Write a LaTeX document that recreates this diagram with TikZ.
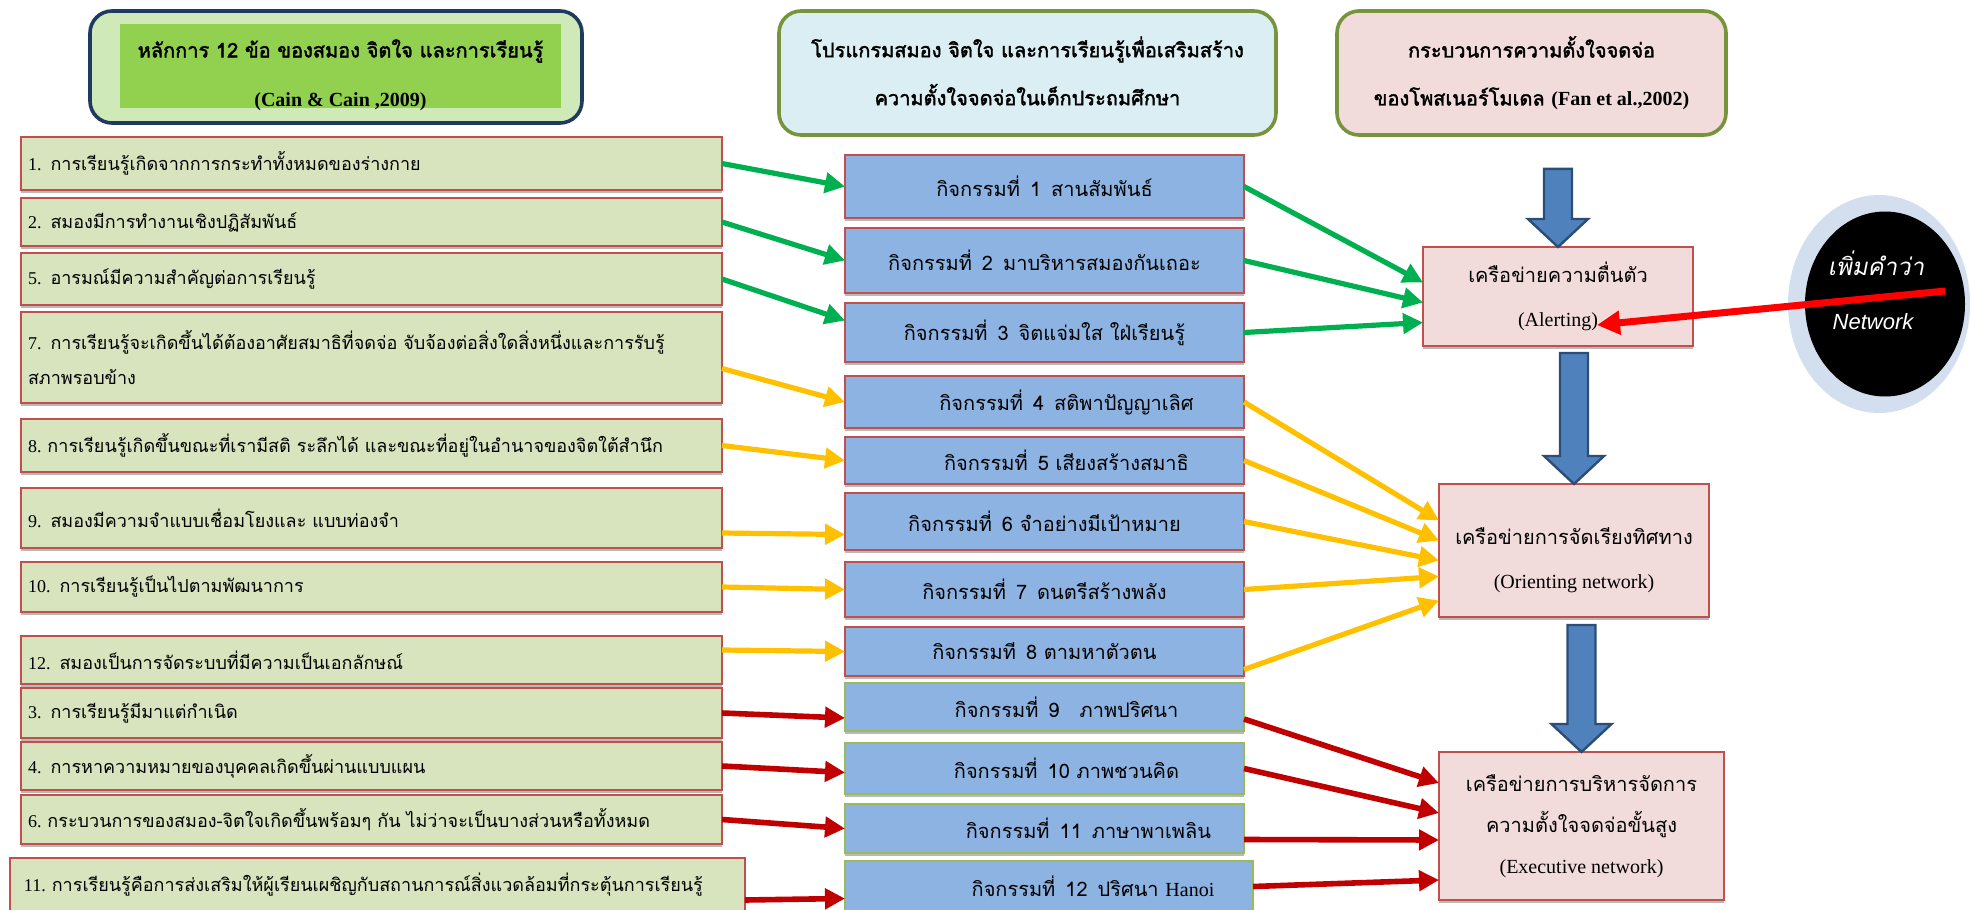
\documentclass[tikz,border=0pt]{standalone}
\usepackage{fontspec}
\setmainfont{Liberation Serif}
\newfontfamily\thai[Script=Thai,AutoFakeBold=2,AutoFakeSlant=0.2]{Loma}
\newfontfamily\lsans{Liberation Sans}
\definecolor{lgreen}{HTML}{D7E4BD}
\definecolor{lred}{HTML}{C0504D}
\definecolor{mblue}{HTML}{8DB3E2}
\definecolor{mgreen}{HTML}{9BBB59}
\definecolor{rpink}{HTML}{F2DCDB}
\definecolor{hgreen}{HTML}{92D050}
\definecolor{hlgreen}{HTML}{D0E9B8}
\definecolor{hnavy}{HTML}{1F3A5F}
\definecolor{hblue}{HTML}{DBEEF3}
\definecolor{holive}{HTML}{77933C}
\definecolor{agreen}{HTML}{00B050}
\definecolor{ayellow}{HTML}{FFC000}
\definecolor{ared}{HTML}{C00000}
\definecolor{bblue}{HTML}{4F81BD}
\definecolor{bnavy}{HTML}{2C4D75}
\definecolor{cring}{HTML}{D3DEEE}
\usetikzlibrary{arrows.meta, positioning, calc, shadows, shapes.geometric}
% draw a line lower without changing its box
\newcommand{\lowerline}[2]{\raisebox{-#1}[\height][\depth]{#2}}

\begin{document}
\begin{tikzpicture}[
  x=0.5pt, y=-0.5pt,
  boxshadow/.style={drop shadow={shadow xshift=0pt, shadow yshift=-1.3pt,
    fill=gray!55, opacity=1}},
  lbox/.style={rectangle, draw=lred, fill=lgreen, line width=0.7pt,
    outer sep=0pt, minimum width=350.5pt, text width=343.5pt,
    inner xsep=3.5pt, inner ysep=0pt, align=left, boxshadow,
    font=\fontsize{9}{17.5}\selectfont},
  mbox/.style={rectangle, draw=lred, fill=mblue, line width=0.7pt,
    outer sep=0pt, minimum width=199.5pt, inner sep=0pt, align=center,
    boxshadow, font=\thai\fontsize{10}{12}\selectfont},
  rbox/.style={rectangle, draw=lred, fill=rpink, line width=0.7pt,
    outer sep=0pt, inner sep=0pt, align=center, boxshadow,
    font=\thai\fontsize{10}{22}\selectfont},
  hdr/.style={rectangle, rounded corners=11pt, draw=holive, line width=1.8pt,
    align=center, font=\thai\bfseries\fontsize{10}{24}\selectfont},
  garr/.style={-{Triangle[length=10pt,width=10pt]}, line width=2.6pt, agreen},
  yarr/.style={-{Triangle[length=10pt,width=10pt]}, line width=2.6pt, ayellow},
  rarr/.style={-{Triangle[length=10pt,width=10pt]}, line width=2.8pt, ared},
  barrow/.style={fill=bblue, draw=bnavy, line width=1.2pt},
  notetxt/.style={text=white, inner sep=0pt}
]
  \useasboundingbox (0,0) rectangle (1971,910);

  % headers
  \node[hdr, draw=hnavy, fill=hlgreen, minimum width=246pt,
    minimum height=56pt] (h1) at (336,67) {};
  \node[rectangle, fill=hgreen, minimum width=220.5pt, minimum height=41pt,
    align=center, font=\thai\bfseries\fontsize{10}{24.5}\selectfont]
    (h1t) at (340.5,66)
    {\lowerline{4.5pt}{หลักการ 12 ข้อ ของสมอง จิตใจ และการเรียนรู้}\\
     \lowerline{4.5pt}{\rmfamily\bfseries (Cain \& Cain ,2009)}};
  \node[hdr, fill=hblue, minimum width=248.5pt, minimum height=62pt]
    (h2) at (1027.5,73)
    {\lowerline{-1pt}{โปรแกรมสมอง จิตใจ และการเรียนรู้เพื่อเสริมสร้าง}\\
     \lowerline{-1pt}{ความตั้งใจจดจ่อในเด็กประถมศึกษา}};
  \node[hdr, fill=rpink, minimum width=194.5pt, minimum height=62pt]
    (h3) at (1531.5,73)
    {กระบวนการความตั้งใจจดจ่อ\\ของโพสเนอร์โมเดล {\rmfamily\bfseries (Fan et al.,2002)}};

  % left: principles
  \node[lbox, minimum height=26.5pt, anchor=north west] (l1) at (21,137)
    {1. \thai การเรียนรู้เกิดจากการกระทำทั้งหมดของร่างกาย};
  \node[lbox, minimum height=24pt, below=4pt of l1] (l2)
    {2. \thai สมองมีการทำงานเชิงปฏิสัมพันธ์};
  \node[lbox, minimum height=26pt, below=3.5pt of l2] (l5)
    {5. \thai อารมณ์มีความสำคัญต่อการเรียนรู้};
  \node[lbox, minimum height=45.5pt, below=3.5pt of l5] (l7)
    {7. \thai การเรียนรู้จะเกิดขึ้นได้ต้องอาศัยสมาธิที่จดจ่อ~จับจ้องต่อสิ่งใดสิ่งหนึ่งและการรับรู้\\สภาพรอบข้าง};
  \node[lbox, minimum height=26.5pt, below=8pt of l7] (l8)
    {8.~\thai การเรียนรู้เกิดขึ้นขณะที่เรามีสติ~ระลึกได้~และขณะที่อยู่ในอำนาจของจิตใต้สำนึก};
  \node[lbox, minimum height=30pt, below=8pt of l8] (l9)
    {9. \thai สมองมีความจำแบบเชื่อมโยงและ แบบท่องจำ};
  \node[lbox, minimum height=25pt, below=7pt of l9] (l10)
    {10. \thai การเรียนรู้เป็นไปตามพัฒนาการ};
  \node[lbox, minimum height=24pt, below=12pt of l10] (l12)
    {12. \thai สมองเป็นการจัดระบบที่มีความเป็นเอกลักษณ์};
  \node[lbox, minimum height=25pt, below=2pt of l12] (l3)
    {3. \thai การเรียนรู้มีมาแต่กำเนิด};
  \node[lbox, minimum height=24pt, below=2pt of l3] (l4)
    {4. \thai การหาความหมายของบุคคลเกิดขึ้นผ่านแบบแผน};
  \node[lbox, minimum height=24.5pt, below=2.5pt of l4] (l6)
    {6.~\thai กระบวนการของสมอง-จิตใจเกิดขึ้นพร้อมๆ~กัน~ไม่ว่าจะเป็นบางส่วนหรือทั้งหมด};
  \node[lbox, minimum height=27pt, minimum width=367.5pt, text width=353.5pt,
    inner xsep=7pt, anchor=north west] (l11) at (10,858)
    {11.~\thai การเรียนรู้คือการส่งเสริมให้ผู้เรียนเผชิญกับสถานการณ์สิ่งแวดล้อมที่กระตุ้นการเรียนรู้};

  % middle: activities
  \node[mbox, minimum height=31.5pt, anchor=north west] (m1) at (845,155)
    {กิจกรรมที่\enspace 1\enspace สานสัมพันธ์};
  \node[mbox, minimum height=32.5pt, below=5pt of m1] (m2)
    {กิจกรรมที่\enspace 2\enspace มาบริหารสมองกันเถอะ};
  \node[mbox, minimum height=29.5pt, below=5pt of m2] (m3)
    {กิจกรรมที่\enspace 3\enspace จิตแจ่มใส ใฝ่เรียนรู้};
  \node[mbox, minimum height=26pt, below=7pt of m3] (m4)
    {\hspace*{22pt}กิจกรรมที่\enspace 4\enspace สติพาปัญญาเลิศ};
  \node[mbox, minimum height=23.5pt, below=4.5pt of m4] (m5)
    {\hspace*{22pt}กิจกรรมที่\enspace 5 เสียงสร้างสมาธิ};
  \node[mbox, minimum height=28.5pt, below=4.5pt of m5] (m6)
    {กิจกรรมที่\enspace 6 จำอย่างมีเป้าหมาย};
  \node[mbox, minimum height=27.5pt, below=6pt of m6] (m7)
    {กิจกรรมที่\enspace 7\enspace ดนตรีสร้างพลัง};
  \node[mbox, minimum height=24.5pt, below=5pt of m7] (m8)
    {กิจกรรมที\enspace 8 ตามหาตัวตน};
  \node[mbox, draw=mgreen, minimum height=24pt, below=3.5pt of m8] (m9)
    {\hspace*{22pt}กิจกรรมที่\enspace 9\enspace\enspace ภาพปริศนา};
  \node[mbox, draw=mgreen, minimum height=25.5pt, below=6pt of m9] (m10)
    {\hspace*{22pt}กิจกรรมที่\enspace 10 ภาพชวนคิด};
  \node[mbox, draw=mgreen, minimum height=24.5pt, below=5pt of m10] (m11)
    {\hspace*{44pt}กิจกรรมที่\enspace 11\enspace ภาษาพาเพลิน};
  \node[mbox, draw=mgreen, minimum height=25.5pt, minimum width=204pt,
    below=4pt of m11.south west, anchor=north west] (m12)
    {\hspace*{44pt}กิจกรรมที่\enspace 12\enspace ปริศนา {\rmfamily Hanoi}};

  % right: attention networks
  \node[rbox, minimum width=135pt, minimum height=49.5pt] (r1) at (1558,296.5)
    {เครือข่ายความตื่นตัว\\{\rmfamily (Alerting)}};
  \node[rbox, minimum width=135pt, minimum height=66.5pt] (r2) at (1574,550.5)
    {\lowerline{5pt}{เครือข่ายการจัดเรียงทิศทาง}\\
     \lowerline{5pt}{\rmfamily (Orienting network)}};
  \node[rbox, minimum width=142.5pt, minimum height=74pt,
    font=\thai\fontsize{10}{20.5}\selectfont] (r3) at (1581.5,826)
    {เครือข่ายการบริหารจัดการ\\ความตั้งใจจดจ่อขั้นสูง\\{\rmfamily (Executive network)}};

  % block arrows down the right column
  \foreach \a/\b/\g in {h3/r1/16pt, r1/r2/3.5pt, r2/r3/4pt}
    \draw[barrow] let \p1=(\b.north), \p2=(\a.south) in
      (\x1-7pt,\y2-\g) -- (\x1-7pt,\y1+14pt) -- (\x1-15pt,\y1+14pt)
      -- (\p1) -- (\x1+15pt,\y1+14pt) -- (\x1+7pt,\y1+14pt)
      -- (\x1+7pt,\y2-\g) -- cycle;

  % note bubble
  \node[ellipse, fill=cring, minimum width=91pt, minimum height=109pt]
    (ring) at (1879,304) {};
  \node[ellipse, fill=black, minimum width=80pt, minimum height=92.5pt]
    (note) at (1885,304) {};
  \node[notetxt, font=\thai\itshape\fontsize{12}{14}\selectfont]
    (t1) at (1876,263) {เพิ่มคำว่า};
  \node[notetxt, font=\lsans\itshape\fontsize{11}{13}\selectfont]
    (t2) at (1873,322) {Network};

  % principles -> activities
  \draw[garr] (l1.east) -- (m1.west);
  \draw[garr] (l2.east) -- (m2.west);
  \draw[garr] (l5.east) -- ([yshift=6pt]m3.west);
  \draw[yarr] ([yshift=-5.5pt]l7.east) -- (m4.west);
  \draw[yarr] (l8.east) -- (m5.west);
  \draw[yarr] ([yshift=-7.5pt]l9.east) -- ([yshift=-6.5pt]m6.west);
  \draw[yarr] (l10.east) -- (m7.west);
  \draw[yarr] ([yshift=5pt]l12.east) -- (m8.west);
  \draw[rarr] (l3.east) -- ([yshift=-5.5pt]m9.west);
  \draw[rarr] (l4.east) -- ([yshift=-2pt]m10.west);
  \draw[rarr] (l6.east) -- (m11.west);
  \draw[rarr] ([yshift=-7.5pt]l11.east) -- ([yshift=-6pt]m12.west);

  % activities -> networks
  \draw[garr] (m1.east) -- ([yshift=7pt]r1.west);
  \draw[garr] (m2.east) -- ([yshift=-3pt]r1.west);
  \draw[garr] (m3.east) -- ([yshift=-13pt]r1.west);
  \draw[yarr] (m4.east) -- ([yshift=15pt]r2.west);
  \draw[yarr] (m5.east) -- ([yshift=5pt]r2.west);
  \draw[yarr] (m6.east) -- ([yshift=-5pt]r2.west);
  \draw[yarr] (m7.east) -- ([yshift=-13pt]r2.west);
  \draw[yarr] ([yshift=-9pt]m8.east) -- ([yshift=-25pt]r2.west);
  \draw[rarr] ([yshift=-6pt]m9.east) -- ([yshift=21.5pt]r3.west);
  \draw[rarr] (m10.east) -- ([yshift=6.5pt]r3.west);
  \draw[rarr] ([yshift=-5.5pt]m11.east) -- ([yshift=-7pt]r3.west);
  \draw[rarr] (m12.east) -- ([yshift=-27pt]r3.west);

  % remark arrow
  \draw[-{Triangle[length=11.5pt,width=11.5pt]}, line width=3.5pt, red]
    ($(note.east)+(-10pt,6.5pt)$) -- ($(r1.south east)+(-48pt,10.5pt)$);
\end{tikzpicture}
\end{document}
